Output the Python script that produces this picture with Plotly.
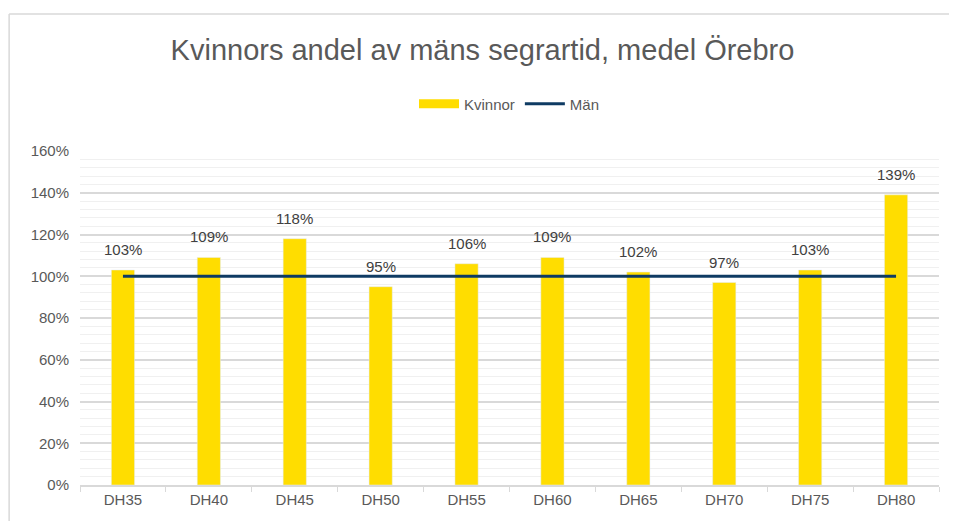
import plotly.graph_objects as go

categories = ["DH35", "DH40", "DH45", "DH50", "DH55", "DH60", "DH65", "DH70", "DH75", "DH80"]
kvinnor = [1.03, 1.09, 1.18, 0.95, 1.06, 1.09, 1.02, 0.97, 1.03, 1.39]
man = [1.0] * len(categories)
labels = ["103%", "109%", "118%", "95%", "106%", "109%", "102%", "97%", "103%", "139%"]

FONT = "Liberation Sans, Arial, sans-serif"
YELLOW = "#FFDD00"
NAVY = "#0F3B63"
W, H = 949, 513

fig = go.Figure()
fig.add_trace(go.Bar(x=categories, y=kvinnor, name="Kvinnor", marker_color=YELLOW,
                     width=0.27, hoverinfo="skip", showlegend=False))
# legend entry drawn as a wide band, as in the reference
fig.add_trace(go.Scatter(x=[None], y=[None], name="Kvinnor", mode="lines",
                         line=dict(color=YELLOW, width=9)))
fig.add_trace(go.Scatter(x=categories, y=man, name="Män", mode="lines",
                         line=dict(color=NAVY, width=3)))

for c, v, t in zip(categories, kvinnor, labels):
    fig.add_annotation(x=c, y=v, text=t, showarrow=False, yanchor="bottom", yshift=10,
                       font=dict(family=FONT, size=15, color="#404040"))

# chart-area frame (top and left edges visible in the reference)
fig.add_shape(type="line", xref="paper", yref="paper", x0=-0.0825, y0=1.41, x1=1.3, y1=1.41,
              line=dict(color="#D9D9D9", width=1.5), layer="below")
fig.add_shape(type="line", xref="paper", yref="paper", x0=-0.0825, y0=-0.3, x1=-0.0825, y1=1.41,
              line=dict(color="#D9D9D9", width=1.5), layer="below")

fig.update_layout(
    width=W, height=H,
    margin=dict(l=72, r=18, t=143, b=36),
    paper_bgcolor="white", plot_bgcolor="white",
    title=dict(text="Kvinnors andel av mäns segrartid, medel Örebro", x=0.5, xanchor="center",
               y=1 - 42 / H, yanchor="middle",
               font=dict(family=FONT, size=29, color="#595959")),
    legend=dict(orientation="h", x=0.5, xanchor="center", y=1.141, yanchor="middle",
                font=dict(family=FONT, size=15, color="#595959"), traceorder="normal",
                itemwidth=40),
    showlegend=True,
    bargap=0.7,
)
fig.update_xaxes(showline=True, linecolor="#D9D9D9", linewidth=1.5, ticks="outside",
                 tickson="boundaries", ticklen=5, tickcolor="#D9D9D9",
                 tickfont=dict(family=FONT, size=15, color="#595959"), showgrid=False)
fig.update_yaxes(range=[0, 1.6], dtick=0.2, tickformat=".0%", showgrid=True,
                 gridcolor="#D9D9D9", gridwidth=1.5, zeroline=False,
                 tickfont=dict(family=FONT, size=15, color="#595959"),
                 minor=dict(dtick=0.04, showgrid=True, gridcolor="#F0F0F0", gridwidth=1.2),
                 ticklabelstandoff=10)

fig.write_html("out.html", post_script="document.documentElement.style.overflow='hidden';"
                                       "document.body.style.overflow='hidden';")
